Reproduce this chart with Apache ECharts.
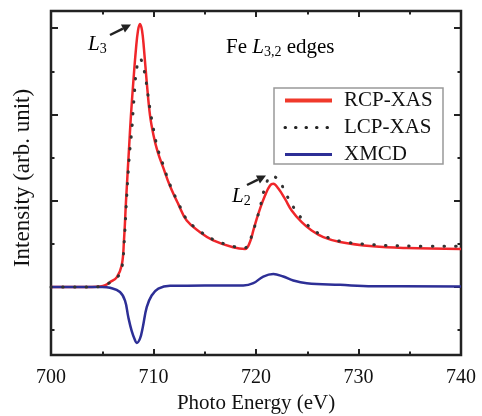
<!DOCTYPE html>
<html><head><meta charset="utf-8">
<script src="https://cdn.jsdelivr.net/npm/echarts@6/dist/echarts.min.js"></script>
<style>html,body{margin:0;padding:0;background:#fff}#c{width:482px;height:416px}</style>
</head><body><div id="c"></div>
<script>
// ---- data ----
const rcpEnergy = [700,702,704,704.78,705.3,705.76,706.41,706.9,707.12,707.32,707.61,707.8,708.03,708.29,708.49,708.68,708.88,709.07,709.34,709.66,710.0,710.4,710.96,711.61,712.42,713.24,714.54,715.83,717.76,718.93,719.41,719.74,720.07,720.39,720.88,721.37,721.69,722.18,722.83,723.48,724.46,725.43,726.57,728.2,731.41,734.7,740];
const rcpIntensity = [0,0,0,0.005,0.02,0.055,0.11,0.25,0.54,1.0,1.6,1.99,2.375,2.76,2.975,3.05,2.975,2.76,2.375,1.99,1.76,1.57,1.38,1.17,0.96,0.77,0.635,0.54,0.46,0.44,0.52,0.655,0.79,0.905,1.06,1.175,1.195,1.14,1.02,0.886,0.75,0.654,0.577,0.52,0.47,0.45,0.44];
const lcpEnergy = [700,702,704,705,705.76,706.41,706.9,707.12,707.32,707.54,707.75,707.87,708.03,708.2,708.29,708.52,708.68,709.0,709.24,709.4,709.56,709.73,709.92,710.37,710.96,711.61,712.42,713.24,714.54,715.83,717.76,718.93,719.41,720.07,720.39,720.95,721.53,722.27,722.83,723.41,723.97,724.78,725.59,726.57,728.2,731.41,734.7,740];
const lcpIntensity = [0,0,0,0.01,0.05,0.1,0.22,0.48,0.9,1.35,1.66,1.795,2.07,2.34,2.47,2.62,2.65,2.55,2.41,2.28,2.14,2.01,1.88,1.62,1.41,1.185,0.975,0.785,0.645,0.55,0.47,0.455,0.54,0.78,0.92,1.18,1.29,1.23,1.1,0.975,0.867,0.75,0.66,0.595,0.53,0.49,0.475,0.47];
const xmcdEnergy = [700,702,704,705,705.76,706.73,707.22,707.54,707.87,708.2,708.36,708.68,708.95,709.34,709.82,710.47,711.61,715,718.76,719.74,720.71,721.69,722.66,723.64,724.95,728.2,731.41,740];
const xmcdIntensity = [0,0,0,0,-0.01,-0.06,-0.16,-0.35,-0.51,-0.62,-0.65,-0.6,-0.47,-0.235,-0.1,-0.02,0.013,0.015,0.016,0.043,0.12,0.15,0.12,0.074,0.043,0.024,0.008,0.005];
const seriesNames = ['RCP-XAS','LCP-XAS','XMCD'];
const xTickLabels = [700,710,720,730,740];
const yMajorTicks = [0,1,2,3];
const yMinorTicks = [-0.5,0.5,1.5,2.5];

const FONT = 'Liberation Serif';
const zip = (a,b) => a.map((v,i)=>[v,b[i]]);
const yMin = -0.79, yMax = 3.2;

function yAx(pos, ticks, len){
  return {type:'value', position:pos, min:yMin, max:yMax,
    axisLine:{show:false, onZero:false}, splitLine:{show:false}, axisLabel:{show:false},
    axisTick:{show:true, inside:true, length:len, customValues:ticks, lineStyle:{color:'#222', width:2}}};
}
function xAx(pos, showLabel){
  return {type:'value', position:pos, min:xTickLabels[0], max:xTickLabels[xTickLabels.length-1], interval:10,
    axisLine:{show:false, onZero:false}, splitLine:{show:false},
    axisTick:{show:true, inside:true, length:6, lineStyle:{color:'#222', width:2}},
    minorTick:{show:true, splitNumber:2, length:3.5, lineStyle:{color:'#222', width:2}},
    axisLabel:{show:showLabel, fontFamily:FONT, fontSize:20, color:'#111', margin:13},
    name: showLabel ? 'Photo Energy (eV)' : '', nameLocation:'middle', nameGap:38,
    nameTextStyle:{fontFamily:FONT, fontSize:21, color:'#111'}};
}

const chart = echarts.init(document.getElementById('c'), null, {renderer:'canvas'});
const yLeft = yAx('left', yMajorTicks, 7);
yLeft.name = 'Intensity (arb. unit)'; yLeft.nameLocation='middle'; yLeft.nameGap=17;
yLeft.nameTextStyle = {fontFamily:FONT, fontSize:23, color:'#111', padding:[0,0,0,10]};

function arrow(x1,y1,x2,y2){
  const dx=x2-x1, dy=y2-y1, L=Math.hypot(dx,dy), ux=dx/L, uy=dy/L, hl=9, hw=4.5;
  const bx=x2-ux*hl, by=y2-uy*hl;
  return [
    {type:'line', shape:{x1:x1,y1:y1,x2:bx,y2:by}, style:{stroke:'#222', lineWidth:2.5}},
    {type:'polygon', shape:{points:[[x2,y2],[bx-uy*hw,by+ux*hw],[bx+uy*hw,by-ux*hw]]}, style:{fill:'#222'}}
  ];
}
const richT = {
  n:{fontFamily:FONT, fontSize:21, color:'#111', lineHeight:24},
  i:{fontFamily:FONT, fontSize:21, fontStyle:'italic', color:'#111', lineHeight:24},
  s:{fontFamily:FONT, fontSize:14, color:'#111', lineHeight:14, verticalAlign:'bottom'}
};

chart.setOption({
  animation:false,
  backgroundColor:'#fff',
  grid:{left:51, right:21, top:11, bottom:61, containLabel:false, outerBoundsMode:'none',
    show:true, borderColor:'#222', borderWidth:2.5, backgroundColor:'transparent'},
  xAxis:[xAx('bottom', true), xAx('top', false)],
  yAxis:[yLeft, yAx('left', yMinorTicks, 3.5), yAx('right', yMajorTicks, 7), yAx('right', yMinorTicks, 3.5)],
  legend:{orient:'vertical', left:283, top:90, padding:0, itemWidth:47, itemHeight:14, itemGap:6,
    textStyle:{fontFamily:FONT, fontSize:21, color:'#111', lineHeight:20, padding:[0,0,0,7]},
    data:[
      {name:seriesNames[0], lineStyle:{width:4, color:'#f0392b'}, itemStyle:{opacity:0}},
      {name:seriesNames[1], lineStyle:{width:3, color:'#222', type:[0.5,10], cap:'round'}, itemStyle:{opacity:0}},
      {name:seriesNames[2], lineStyle:{width:3, color:'#2d2f96'}, itemStyle:{opacity:0}}
    ]},
  series:[
    {name:seriesNames[0], type:'line', data:zip(rcpEnergy, rcpIntensity), symbol:'none', smooth:0.4,
      lineStyle:{color:'#f0262a', width:2.5}, itemStyle:{color:'#f0262a'}, z:3},
    {name:seriesNames[1], type:'line', data:zip(lcpEnergy, lcpIntensity), symbol:'none', smooth:0.4,
      lineStyle:{color:'#333', width:3, type:[0.5,11.2], cap:'round'}, itemStyle:{color:'#333'}, z:4},
    {name:seriesNames[2], type:'line', data:zip(xmcdEnergy, xmcdIntensity), symbol:'none', smooth:0.4,
      lineStyle:{color:'#2d2f96', width:2.5}, itemStyle:{color:'#2d2f96'}, z:3}
  ],
  graphic:[
    {type:'rect', shape:{x:274, y:88, width:169, height:76}, style:{fill:'none', stroke:'#999', lineWidth:1.5}, z:10},
    {type:'text', style:{x:226, y:35, text:'{n|Fe }{i|L}{s|3,2}{n| edges}', rich:richT}, z:10},
    {type:'text', style:{x:88, y:32, text:'{i|L}{s|3}', rich:richT}, z:10},
    {type:'text', style:{x:232, y:184, text:'{i|L}{s|2}', rich:richT}, z:10},
    ...arrow(110,35,131,24.5),
    ...arrow(247,185,266,175.5)
  ]
});
</script></body></html>
